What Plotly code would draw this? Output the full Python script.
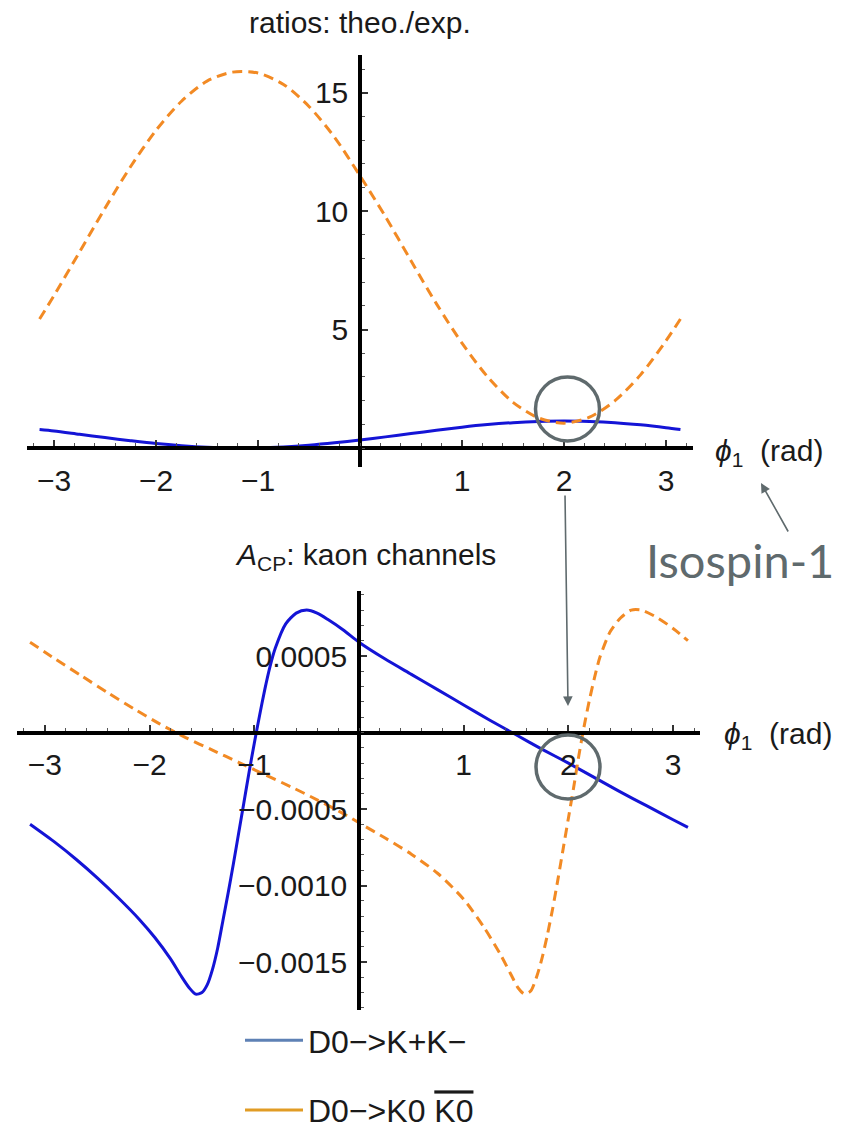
import plotly.graph_objects as go

# ---- data: theory/experiment ratios vs phi_1 ----
phi_ratio = [-3.1416, -3.0, -2.75, -2.5, -2.25, -2.0, -1.75, -1.5, -1.25, -1.0, -0.75, -0.5,
             -0.25, 0.0, 0.25, 0.5, 0.75, 1.0, 1.25, 1.5, 1.75, 2.0, 2.25, 2.5, 2.75, 3.0, 3.1416]
ratio_kk = [0.78, 0.72, 0.58, 0.44, 0.31, 0.19, 0.10, 0.035, 0.005, 0.008, 0.046, 0.117,
            0.217, 0.34, 0.47, 0.61, 0.75, 0.88, 0.99, 1.07, 1.12, 1.14, 1.12, 1.07, 0.98, 0.86, 0.78]
ratio_k0k0 = [5.45, 6.44, 8.28, 10.13, 11.88, 13.42, 14.65, 15.50, 15.88, 15.84, 15.36, 14.43,
              13.13, 11.50, 9.77, 7.91, 6.09, 4.43, 3.01, 1.93, 1.27, 1.05, 1.30, 2.00, 3.09, 4.53, 5.45]

# ---- data: CP asymmetries vs phi_1 ----
phi_acp_kk = [-3.1416, -2.9, -2.7, -2.5, -2.3, -2.1, -1.95, -1.8, -1.7, -1.62, -1.56, -1.5,
              -1.45, -1.4, -1.35, -1.3, -1.25, -1.2, -1.15, -1.1, -1.05, -1.0, -0.95, -0.9,
              -0.85, -0.8, -0.7, -0.6, -0.5, -0.4, -0.3, -0.15, 0.0, 0.25, 0.5, 0.75, 1.0,
              1.25, 1.5, 1.75, 2.0, 2.25, 2.5, 2.75, 3.0, 3.1416]
acp_kk = [-0.00060, -0.00072, -0.00083, -0.00095, -0.00108, -0.00122, -0.00134, -0.00148,
          -0.00159, -0.00167, -0.00171, -0.00170, -0.00165, -0.00155, -0.00141, -0.00123,
          -0.00105, -0.00086, -0.00066, -0.00046, -0.00026, -0.00007, 0.00011, 0.00028,
          0.00043, 0.00055, 0.00071, 0.00078, 0.00080, 0.00078, 0.00074, 0.00067, 0.00059,
          0.00048, 0.00038, 0.00028, 0.00018, 0.00008, -0.000015, -0.00011, -0.00020,
          -0.000295, -0.00039, -0.00048, -0.00057, -0.00062]

phi_acp_k0k0 = [-3.1416, -2.9, -2.65, -2.4, -2.15, -1.9, -1.65, -1.4, -1.15, -0.9, -0.65,
                -0.4, -0.15, 0.0, 0.25, 0.5, 0.75, 1.0, 1.2, 1.35, 1.45, 1.52, 1.58, 1.64,
                1.7, 1.75, 1.8, 1.85, 1.9, 1.95, 2.0, 2.05, 2.1, 2.15, 2.2, 2.25, 2.3, 2.4,
                2.5, 2.6, 2.7, 2.85, 3.0, 3.1416]
acp_k0k0 = [0.00059, 0.00048, 0.00037, 0.00026, 0.000155, 0.000055, -0.000035, -0.000115,
            -0.000195, -0.000275, -0.000355, -0.00044, -0.00053, -0.00059, -0.00069,
            -0.000795, -0.00092, -0.00109, -0.00128, -0.00145, -0.00158, -0.00167, -0.00171,
            -0.00169, -0.00159, -0.00147, -0.00132, -0.00115, -0.00096, -0.00076, -0.00056,
            -0.00036, -0.00015, 0.00004, 0.00021, 0.00036, 0.00049, 0.00066, 0.00075,
            0.00080, 0.00080, 0.00075, 0.00068, 0.00060]

x_ticks = [-3, -2, -1, 1, 2, 3]
ratio_ticks = [5, 10, 15]
acp_ticks = [0.0005, -0.0005, -0.0010, -0.0015]
acp_ticktext = ["0.0005", "\u22120.0005", "\u22120.0010", "\u22120.0015"]
legend_names = ["D0\u2212>K+K\u2212",
                "D0\u2212>K0 <span style=\"text-decoration:overline\">K0</span>"]
legend_colors = ["#5E81B5", "#E19C24"]

W, H = 848, 1130
BLUE = "#1414d6"
ORANGE = "#f28a24"
GREY = "#5f6a6d"
TXT = "#1a1a1a"
FONT = "Liberation Sans, Arial, sans-serif"
FS = 30


def px(x):
    return x / W


def py(y):
    return 1 - y / H


fig = go.Figure()

# upper panel: ratios
fig.add_trace(go.Scatter(x=phi_ratio, y=ratio_kk, mode="lines", xaxis="x", yaxis="y",
                         line=dict(color=BLUE, width=3, shape="spline", smoothing=0.8),
                         showlegend=False))
fig.add_trace(go.Scatter(x=phi_ratio, y=ratio_k0k0, mode="lines", xaxis="x", yaxis="y",
                         line=dict(color=ORANGE, width=3, dash="10px,6px", shape="spline",
                                   smoothing=0.8),
                         showlegend=False))

# lower panel: asymmetries
fig.add_trace(go.Scatter(x=phi_acp_kk, y=acp_kk, mode="lines", xaxis="x2", yaxis="y2",
                         line=dict(color=BLUE, width=3, shape="spline", smoothing=0.7),
                         showlegend=False))
fig.add_trace(go.Scatter(x=phi_acp_k0k0, y=acp_k0k0, mode="lines", xaxis="x2", yaxis="y2",
                         line=dict(color=ORANGE, width=3, dash="10px,6px", shape="spline",
                                   smoothing=0.7),
                         showlegend=False))

# legend entries
for name, col, grp in zip(legend_names, legend_colors, ["a", "b"]):
    fig.add_trace(go.Scatter(x=[None], y=[None], mode="lines", name=name, legendgroup=grp,
                             line=dict(color=col, width=3), xaxis="x2", yaxis="y2"))

# pixel geometry of the two panels
top_x0, top_x1, top_y0, top_y1 = 27, 693, 55, 467
top_origin_px = (360, 448)
top_xscale, top_yscale = 102.0, 23.67
bot_x0, bot_x1, bot_y0, bot_y1 = 17, 700, 591, 1010
bot_origin_px = (359, 732.5)
bot_xscale, bot_yscale = 104.7, 153000.0

top_xrange = [(top_x0 - top_origin_px[0]) / top_xscale, (top_x1 - top_origin_px[0]) / top_xscale]
top_yrange = [(top_origin_px[1] - top_y1) / top_yscale, (top_origin_px[1] - top_y0) / top_yscale]
bot_xrange = [(bot_x0 - bot_origin_px[0]) / bot_xscale, (bot_x1 - bot_origin_px[0]) / bot_xscale]
bot_yrange = [(bot_origin_px[1] - bot_y1) / bot_yscale, (bot_origin_px[1] - bot_y0) / bot_yscale]

axis_common = dict(showgrid=False, zeroline=False, showline=True, linecolor="black",
                   linewidth=3.5, ticks="inside", tickcolor="#333", tickwidth=1.5,
                   ticklen=6, tickfont=dict(family=FONT, size=FS, color=TXT),
                   fixedrange=True, automargin=False)
minor_x = dict(tickmode="linear", tick0=0, dtick=0.2, ticks="inside",
               ticklen=3, tickcolor="#555", tickwidth=1.2)
x_ticktext = [str(v).replace("-", "\u2212") for v in x_ticks]

fig.update_layout(
    width=W, height=H,
    margin=dict(l=0, r=0, t=0, b=0, autoexpand=False),
    paper_bgcolor="white", plot_bgcolor="rgba(0,0,0,0)",
    xaxis=dict(domain=[px(top_x0), px(top_x1)], range=top_xrange, anchor="free",
               position=py(top_origin_px[1]), tickmode="array", tickvals=x_ticks,
               ticktext=x_ticktext, ticklabelstandoff=5, minor=minor_x, **axis_common),
    yaxis=dict(domain=[py(top_y1), py(top_y0)], range=top_yrange, anchor="free",
               position=px(top_origin_px[0]), tickmode="array", tickvals=ratio_ticks,
               ticklabelstandoff=4,
               minor=dict(tickmode="linear", tick0=0, dtick=1, ticks="inside",
                          ticklen=3, tickcolor="#555", tickwidth=1.2),
               **axis_common),
    xaxis2=dict(domain=[px(bot_x0), px(bot_x1)], range=bot_xrange, anchor="free",
                position=py(bot_origin_px[1]), tickmode="array", tickvals=x_ticks,
                ticktext=x_ticktext, ticklabelstandoff=5, minor=minor_x, **axis_common),
    yaxis2=dict(domain=[py(bot_y1), py(bot_y0)], range=bot_yrange, anchor="free",
                position=px(bot_origin_px[0]), tickmode="array", tickvals=acp_ticks,
                ticktext=acp_ticktext, ticklabelstandoff=4,
                minor=dict(tickmode="linear", tick0=0, dtick=0.0001, ticks="inside",
                           ticklen=3, tickcolor="#555", tickwidth=1.2),
                **axis_common),
    legend=dict(x=px(240), y=py(1013), xanchor="left", yanchor="top",
                bgcolor="rgba(0,0,0,0)", tracegroupgap=25, itemwidth=58,
                font=dict(family=FONT, size=32, color=TXT)),
)

annotations = [
    dict(text="ratios: theo./exp.", x=px(360), y=py(23)),
    dict(text="<i>A</i><sub>CP</sub>: kaon channels", x=px(365), y=py(557)),
    dict(text="<i>\u03d5</i><sub>1</sub>  (rad)", x=px(713), y=py(452), xanchor="left"),
    dict(text="<i>\u03d5</i><sub>1</sub>  (rad)", x=px(722), y=py(735), xanchor="left"),
]
for a in annotations:
    a.setdefault("xanchor", "center")
    fig.add_annotation(xref="paper", yref="paper", yanchor="middle", showarrow=False,
                       font=dict(family=FONT, size=FS, color=TXT), **a)

fig.add_annotation(xref="paper", yref="paper", x=px(740), y=py(560), text="Isospin-1",
                   showarrow=False, xanchor="center", yanchor="middle",
                   font=dict(family="Lato, sans-serif", size=47, color=GREY))

# pointer arrows
fig.add_annotation(xref="paper", yref="paper", x=px(761), y=py(483), text="",
                   showarrow=True, arrowhead=2, arrowsize=1.2, arrowwidth=1.6,
                   arrowcolor=GREY, ax=28, ay=50)
fig.add_annotation(xref="paper", yref="paper", x=px(568), y=py(706), text="",
                   showarrow=True, arrowhead=2, arrowsize=1.2, arrowwidth=1.6,
                   arrowcolor=GREY, ax=-3, ay=-212)

# highlight circles
for cx, cy, r in [(567.5, 409, 32), (568, 767, 32)]:
    fig.add_shape(type="circle", xref="paper", yref="paper",
                  x0=px(cx - r), x1=px(cx + r), y0=py(cy + r), y1=py(cy - r),
                  line=dict(color=GREY, width=3.5))

fig.write_html("out.html")
